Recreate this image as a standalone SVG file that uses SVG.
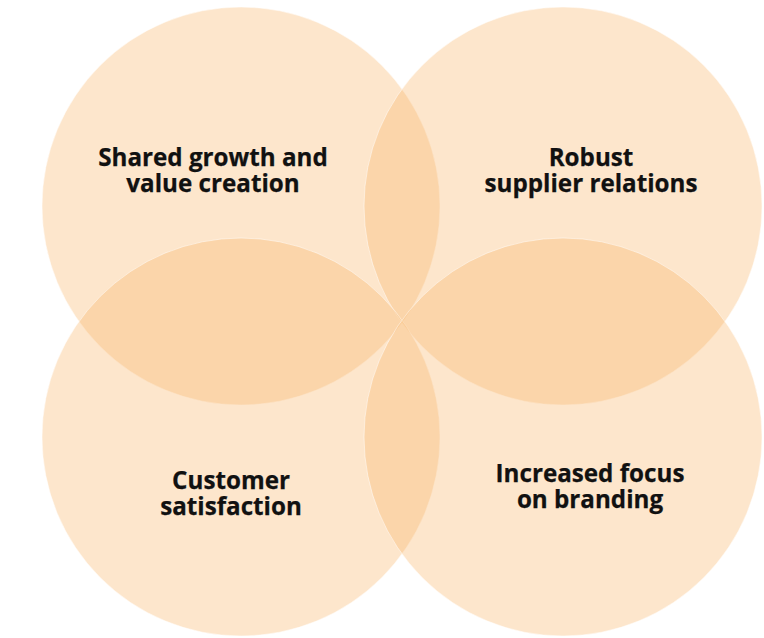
<svg xmlns="http://www.w3.org/2000/svg" width="764" height="638" viewBox="0 0 764 638">
<style>
.c{fill:#F9B466;fill-opacity:0.333;stroke:#ffffff;stroke-opacity:0.5;stroke-width:1}
.t{font-family:"Open Sans",sans-serif;font-weight:700;font-size:24.2px;fill:#111111;stroke:#111111;stroke-width:0.25;text-anchor:middle}
</style>
<rect width="764" height="638" fill="#ffffff"/>
<g id="node1"><circle class="c" cx="241" cy="206" r="199"/></g>
<g id="node2"><circle class="c" cx="563" cy="206" r="199"/></g>
<g id="node3"><circle class="c" cx="241" cy="437" r="199"/></g>
<g id="node4"><circle class="c" cx="563" cy="437" r="199"/></g>
<g id="labels">
<text class="t" x="213" y="166">Shared growth and</text>
<text class="t" x="213" y="192">value creation</text>
<text class="t" x="591" y="166">Robust</text>
<text class="t" x="591" y="192">supplier relations</text>
<text class="t" x="231" y="489">Customer</text>
<text class="t" x="231" y="515">satisfaction</text>
<text class="t" x="590" y="482">Increased focus</text>
<text class="t" x="590" y="508">on branding</text>
</g>
<g id="connectors"/>
</svg>
